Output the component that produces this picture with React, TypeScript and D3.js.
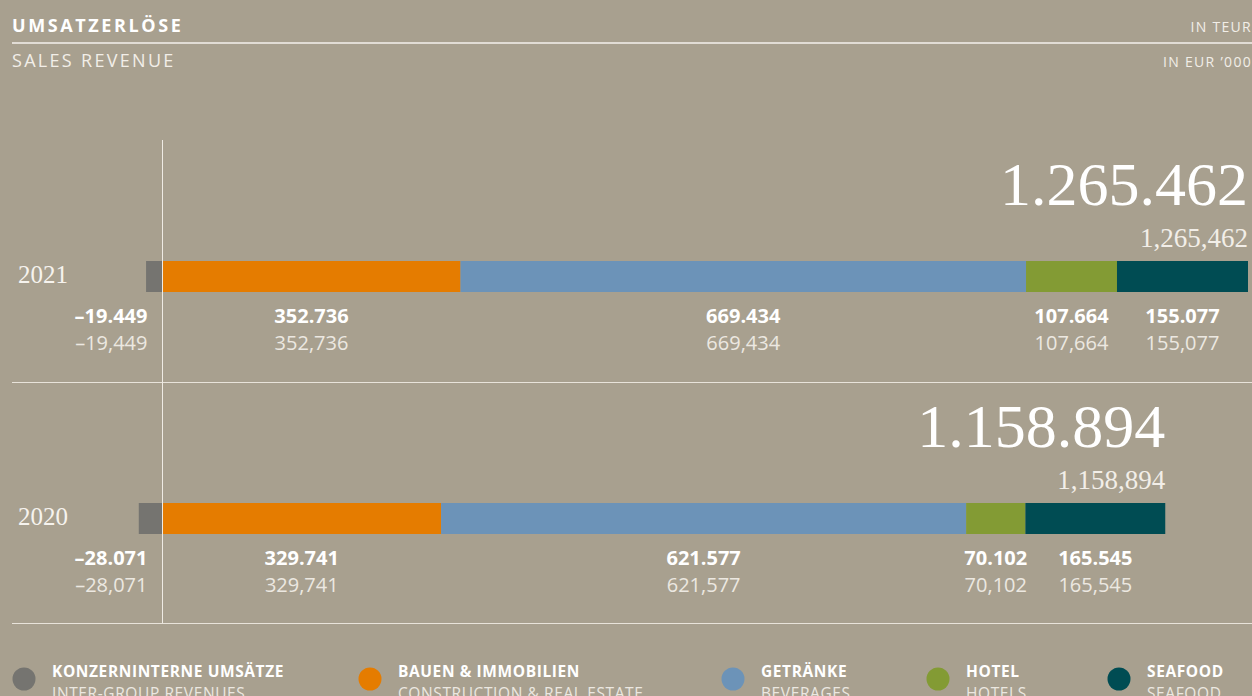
import React from "react";
import * as d3 from "d3";

// ---- data ----
const years = ["2021", "2020"];
const segmentKeys = ["intergroup", "construction", "beverages", "hotels", "seafood"];
const intergroup = [-19449, -28071];
const construction = [352736, 329741];
const beverages = [669434, 621577];
const hotels = [107664, 70102];
const seafood = [155077, 165545];
const totals = [1265462, 1158894];

const legendDe = ["KONZERNINTERNE UMSÄTZE", "BAUEN & IMMOBILIEN", "GETRÄNKE", "HOTEL", "SEAFOOD"];
const legendEn = ["INTER-GROUP REVENUES", "CONSTRUCTION & REAL ESTATE", "BEVERAGES", "HOTELS", "SEAFOOD"];
const segmentColors = ["#757470", "#e57c00", "#6c93b8", "#839b34", "#004c53"];

const titleDe = "UMSATZERLÖSE";
const titleEn = "SALES REVENUE";
const unitDe = "IN TEUR";
const unitEn = "IN EUR ’000";

const W = 1252;
const H = 696;
const BG = "#a8a08f";
const SANS = "'Open Sans', 'Noto Sans', sans-serif";
const SERIF = "'Liberation Serif', 'DejaVu Serif', serif";

const deFmt = d3.formatLocale({ decimal: ",", thousands: ".", grouping: [3], currency: ["", "€"], minus: "–" }).format(",d");
const enFmt = d3.formatLocale({ decimal: ".", thousands: ",", grouping: [3], currency: ["", "€"], minus: "–" }).format(",d");

export default function App() {
  const seriesByKey: Record<string, number[]> = { intergroup, construction, beverages, hotels, seafood };
  const rows = years.map((y, i) => {
    const obj: any = { year: y, total: totals[i] };
    segmentKeys.forEach((k) => (obj[k] = seriesByKey[k][i]));
    return obj;
  });

  const zeroX = 162.5;
  const maxPos = d3.max(rows, (r) => d3.sum(segmentKeys.slice(1), (k) => r[k])) as number;
  const x = d3.scaleLinear().domain([0, maxPos]).range([zeroX, 1248]);
  const y = d3.scaleBand().domain(years).range([261, 261 + 242 * 2]).paddingInner(0).paddingOuter(0);
  const barH = 31;

  const stack = d3.stack<any>().keys(segmentKeys).offset(d3.stackOffsetDiverging);
  const stacked = stack(rows);

  const legendX = [24, 370, 733, 938, 1119];

  return (
    <svg width={W} height={H} style={{ position: "absolute", left: 0, top: 0, display: "block" }}>
      <rect x={0} y={0} width={W} height={H} fill={BG} />
      {/* header */}
      <text x={12} y={32} fill="#ffffff" fontFamily={SANS} fontWeight={700} fontSize={18} letterSpacing={2.6}>{titleDe}</text>
      <line x1={12} x2={1252} y1={43} y2={43} stroke="#f4f1ec" strokeWidth={1.5} />
      <text x={12} y={66.5} fill="#f2eee8" fontFamily={SANS} fontSize={18} letterSpacing={2.3}>{titleEn}</text>
      <text x={1252} y={32} textAnchor="end" fill="#f2eee8" fontFamily={SANS} fontSize={14} letterSpacing={1.3}>{unitDe}</text>
      <text x={1252} y={66.5} textAnchor="end" fill="#f2eee8" fontFamily={SANS} fontSize={14} letterSpacing={1.3}>{unitEn}</text>

      {/* dividers */}
      <line x1={12} x2={1252} y1={382.5} y2={382.5} stroke="#e8e3da" strokeWidth={1} />
      <line x1={12} x2={1252} y1={623.5} y2={623.5} stroke="#e8e3da" strokeWidth={1} />

      {/* bars */}
      {stacked.map((s, si) => (
        <g key={s.key}>
          {s.map((d, i) => {
            const x0 = x(Math.min(d[0], d[1]));
            const x1 = x(Math.max(d[0], d[1]));
            return (
              <rect key={i} x={x0} y={y(rows[i].year)} width={x1 - x0} height={barH} fill={segmentColors[si]} />
            );
          })}
        </g>
      ))}

      {/* zero line */}
      <line x1={zeroX} x2={zeroX} y1={140} y2={623} stroke="#efebe4" strokeWidth={1} />

      {/* labels */}
      {rows.map((r, i) => {
        const top = y(r.year) as number;
        const bottom = top + barH;
        const end = x(d3.sum(segmentKeys.slice(1), (k) => r[k]));
        return (
          <g key={r.year}>
            <text x={18} y={top + 22} fill="#f6f3ee" fontFamily={SERIF} fontSize={25}>{r.year}</text>
            <text x={end} y={top - 56} textAnchor="end" fill="#ffffff" fontFamily={SERIF} fontSize={62}>{deFmt(r.total)}</text>
            <text x={end} y={top - 14} textAnchor="end" fill="#f2eee8" fontFamily={SERIF} fontSize={27}>{enFmt(r.total)}</text>
            {stacked.map((s, si) => {
              const d = s[i];
              const v = r[s.key];
              const neg = v < 0;
              const cx = neg ? zeroX - 15 : (x(d[0]) + x(d[1])) / 2;
              const anchor = neg ? "end" : "middle";
              return (
                <g key={s.key}>
                  <text x={cx} y={bottom + 31} textAnchor={anchor} fill="#ffffff" fontFamily={SANS} fontWeight={700} fontSize={20}>{deFmt(v)}</text>
                  <text x={cx} y={bottom + 57.5} textAnchor={anchor} fill="#ece8e1" fontFamily={SANS} fontSize={20}>{enFmt(v)}</text>
                </g>
              );
            })}
          </g>
        );
      })}

      {/* legend */}
      {legendDe.map((lab, i) => (
        <g key={lab}>
          <circle cx={legendX[i]} cy={679} r={11.5} fill={segmentColors[i]} />
          <text x={legendX[i] + 28} y={677} fill="#ffffff" fontFamily={SANS} fontWeight={700} fontSize={15.5} letterSpacing={0.6}>{lab}</text>
          <text x={legendX[i] + 28} y={699} fill="#ece8e1" fontFamily={SANS} fontSize={15.5} letterSpacing={0.6}>{legendEn[i]}</text>
        </g>
      ))}
    </svg>
  );
}
